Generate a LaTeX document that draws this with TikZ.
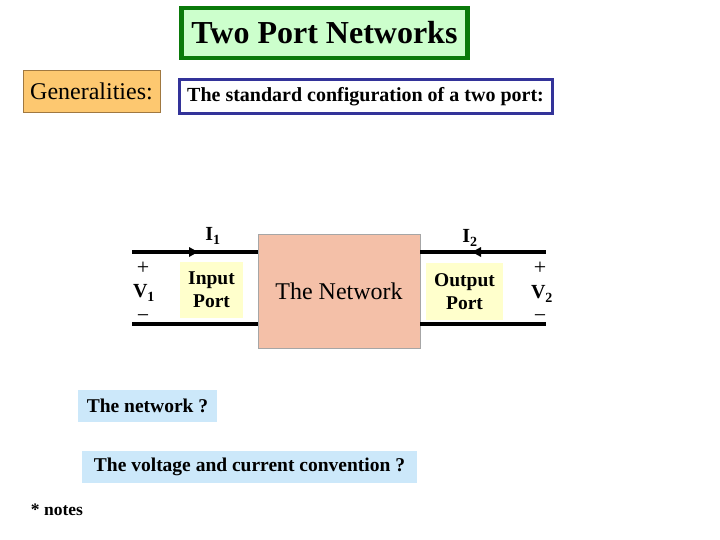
\documentclass[tikz,border=0pt]{standalone}
\usepackage{fontspec}
\setmainfont{Liberation Serif}
\usetikzlibrary{arrows.meta}
\definecolor{titlegreen}{HTML}{0A7A0A}
\definecolor{titlefill}{HTML}{CCFFCC}
\definecolor{genfill}{HTML}{FDC870}
\definecolor{genborder}{HTML}{A07840}
\definecolor{cfgblue}{HTML}{333399}
\definecolor{netfill}{HTML}{F4C0A8}
\definecolor{portfill}{HTML}{FFFFCC}
\definecolor{qfill}{HTML}{CCE8FA}
\tikzset{
  wire/.style={line width=3.2pt},
  portbox/.style={fill=portfill, draw=none, inner sep=0pt, font=\fontsize{19.5}{23}\selectfont\bfseries, align=center},
  qbox/.style={fill=qfill, draw=none, inner sep=0pt, font=\fontsize{19.5}{22}\selectfont\bfseries},
  sign/.style={inner sep=0pt, font=\fontsize{22}{22}\selectfont},
  vlab/.style={inner sep=0pt, font=\fontsize{20}{22}\selectfont\bfseries},
  ilab/.style={inner sep=0pt, font=\fontsize{20}{22}\selectfont\bfseries},
}
\begin{document}
\begin{tikzpicture}[x=1pt,y=-1pt]
\useasboundingbox (0,0) rectangle (720,540);
% title
\node[draw=titlegreen, line width=4.5pt, fill=titlefill, minimum width=286pt, minimum height=50pt, inner sep=0pt, font=\fontsize{32}{34}\selectfont\bfseries] (title) at (324.5,33) {Two Port Networks};
% generalities
\node[draw=genborder, line width=0.8pt, fill=genfill, minimum width=137pt, minimum height=42pt, inner sep=0pt, font=\fontsize{24}{26}\selectfont] (gen) at (91.5,91) {Generalities:};
% config
\node[draw=cfgblue, line width=3pt, fill=white, minimum width=373pt, minimum height=34pt, inner sep=0pt, font=\fontsize{20}{22}\selectfont\bfseries] (cfg) at (365.5,97) {The standard configuration of a two port:};
% network
\node[draw=gray!70, line width=0.6pt, fill=netfill, minimum width=162pt, minimum height=114pt, inner sep=0pt, font=\fontsize{24}{26}\selectfont] (net) at (339,291) {The Network};
% wire endpoints
\coordinate (l1) at (132,252);
\coordinate (l2) at (132,324);
\coordinate (r1) at (546,252);
\coordinate (r2) at (546,324);
\draw[wire] (l1) -- (l1 -| net.west);
\draw[wire] (l2) -- (l2 -| net.west);
\draw[wire] (net.east |- r1) -- (r1);
\draw[wire] (net.east |- r2) -- (r2);
% arrows
\coordinate (a1) at (190,252);
\coordinate (a2) at (480,252);
\fill (a1) ++(-1,-5) -- ++(9,5) -- ++(-9,5) -- cycle;
\fill (a2) ++(1,-5) -- ++(-9,5) -- ++(9,5) -- cycle;
% current labels
\node[ilab] (i1) at (213,236) {I\textsubscript{1}};
\node[ilab] (i2) at (470,238) {I\textsubscript{2}};
% voltage labels
\node[sign] (p1) at (143,268) {+};
\node[vlab] (v1) at (144,293) {V\textsubscript{1}};
\node[sign] (m1) at (143,319) {−};
\node[sign] (p2) at (540,268) {+};
\node[vlab] (v2) at (542,294) {V\textsubscript{2}};
\node[sign] (m2) at (540,319) {−};
% port boxes
\node[portbox, minimum width=63pt, minimum height=56pt] (inp) at (211.5,290) {Input\\Port};
\node[portbox, minimum width=77pt, minimum height=57pt] (outp) at (464.5,291.5) {Output\\Port};
% questions
\node[qbox, minimum width=139pt, minimum height=32pt] (q1) at (147.5,406) {The network ?};
\node[qbox, minimum width=335pt, minimum height=32pt] (q2) at (249.5,467) {The voltage and current convention ?};
\node[font=\fontsize{17.5}{20}\selectfont\bfseries] (notes) at (57,510) {* notes};
\end{tikzpicture}
\end{document}
